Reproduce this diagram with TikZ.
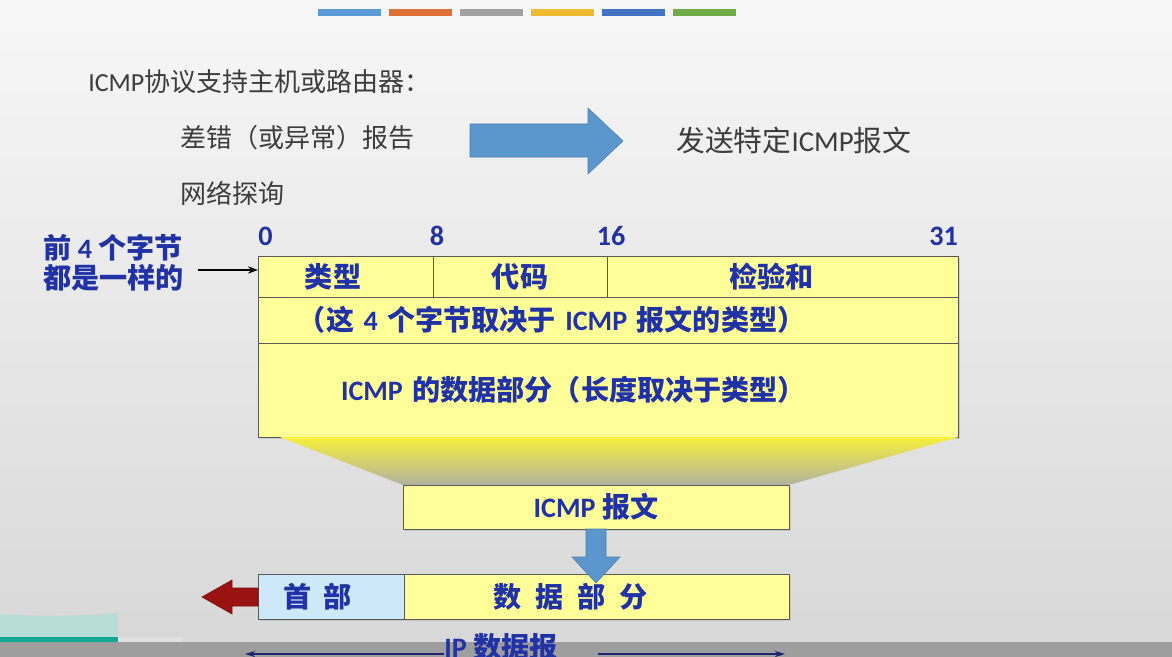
\documentclass[tikz,border=0pt]{standalone}
\usepackage{fontspec}
\setmainfont{Noto Sans CJK SC}
\newfontfamily\lat{Carlito}
\usetikzlibrary{positioning,arrows.meta,shadows}
\definecolor{navy}{RGB}{32,50,165}
\definecolor{dimnavy}{RGB}{28,38,110}
\definecolor{txtgray}{RGB}{60,60,60}
\definecolor{cellyel}{RGB}{255,255,153}
\definecolor{hdrblue}{RGB}{205,232,248}
\definecolor{arrblue}{RGB}{91,150,204}
\definecolor{arrred}{RGB}{155,18,18}
\definecolor{funtop}{RGB}{246,240,60}
\definecolor{funbot}{RGB}{178,178,160}
\definecolor{bgtop}{RGB}{247,247,247}
\definecolor{bgmid}{RGB}{240,240,240}
\definecolor{bgbot}{RGB}{216,216,216}
\definecolor{bandgray}{RGB}{158,158,158}
\definecolor{tealbar}{RGB}{18,168,148}
\definecolor{tealbg}{RGB}{184,220,216}
\definecolor{barA}{RGB}{91,155,213}
\definecolor{barB}{RGB}{222,112,56}
\definecolor{barC}{RGB}{160,160,160}
\definecolor{barD}{RGB}{240,186,48}
\definecolor{barE}{RGB}{68,114,196}
\definecolor{barF}{RGB}{112,173,71}
\tikzset{
  cell/.style={draw=black!65, fill=cellyel, outer sep=0pt, inner sep=0pt,
               text=navy, font=\bfseries\fontsize{20}{24}\selectfont,
               drop shadow={opacity=0.25, shadow xshift=1.2pt, shadow yshift=-1.2pt}},
  plain/.style={anchor=west, inner sep=0pt, text=txtgray,
                font=\fontsize{18.5}{22}\selectfont},
  navylbl/.style={inner sep=0pt, text=navy, font=\bfseries\fontsize{20}{21.3}\selectfont},
  bit/.style={inner xsep=0pt, inner ysep=2.5mm, text=navy,
              font=\lat\bfseries\fontsize{20}{24}\selectfont},
  blockarrow/.style={fill=arrblue, draw=arrblue!85!black, line width=0.4pt},
  dimline/.style={draw=dimnavy, line width=1pt, -{Stealth[length=2.6mm, width=1.6mm]}},
}
\begin{document}
\begin{tikzpicture}[x=0.025cm, y=-0.025cm]
  \useasboundingbox (0,0) rectangle (1172,657);
  % slide background
  \shade[top color=bgtop, middle color=bgmid, bottom color=bgbot] (0,0) rectangle (1172,642);
  \fill[bandgray] (0,642) rectangle (1172,657);
  \fill[tealbg] (0,614) .. controls (40,617) and (80,616) .. (118,613) -- (118,637) -- (0,637) -- cycle;
  \fill[tealbar] (0,637) rectangle (118,642);
  \fill[black!12] (118,637) rectangle (183,642);
  \foreach \c [count=\i from 0] in {barA,barB,barC,barD,barE,barF}
    \fill[\c] (318+71*\i,9) rectangle ++(63,7);

  % intro text
  \node[plain] (intro) at (88,82) {{\lat ICMP}协议支持主机或路由器：};
  \node[plain] (err) at (180,138) {差错（或异常）报告};
  \node[plain] (probe) at (180,193) {网络探询};
  \node[plain, font=\fontsize{20.5}{24}\selectfont] (send) at (676,140) {发送特定{\lat ICMP}报文};
  \fill[blockarrow] (470,124) -- (588,124) -- (588,108) -- (623,141)
    -- (588,174) -- (588,157) -- (470,157) -- cycle;

  % ICMP header layout
  \node[cell, minimum width=4.375cm, minimum height=1.025cm, inner xsep=1.175cm,
        text width=2.025cm, align=left] (typ) at (345.5,276.5) {类型};
  \node[cell, minimum width=4.35cm, minimum height=1.025cm, right=0pt of typ] (code) {代码};
  \node[cell, minimum width=8.775cm, minimum height=1.025cm, inner xsep=3.05cm,
        text width=2.675cm, align=left, right=0pt of code] (chk) {检验和};
  \node[cell, anchor=north west, minimum height=1.15cm, inner xsep=1.0cm,
        text width=15.5cm, align=left] (rsv) at (typ.south west)
        {（这 {\lat 4} 个字节取决于 {\lat ICMP} 报文的类型）};
  \node[cell, anchor=north west, minimum height=2.35cm, inner xsep=2.075cm,
        text width=13.35cm, align=left] (data) at (rsv.south west)
        {{\lat ICMP} 的数据部分（长度取决于类型）};

  \node[bit, anchor=south west] (n0) at (typ.north west) {0};
  \node[bit, anchor=south] (n8) at ([xshift=1mm]code.north west) {8};
  \node[bit, anchor=south] (n16) at ([xshift=1mm]chk.north west) {16};
  \node[bit, anchor=south east] (n31) at (chk.north east) {31};

  \node[navylbl, align=left, anchor=west] (same) at (43,263) {前 {\lat 4} 个字节\\都是一样的};
  \coordinate (tail) at (198,270);
  \draw[-{Stealth[length=2.5mm, width=1.8mm]}, line width=0.9pt] (tail) -- (tail -| typ.west);

  % ICMP message box
  \node[cell, minimum width=9.65cm, minimum height=1.1cm] (msg) at (596,507) {{\lat ICMP} 报文};
  \shade[top color=funtop, bottom color=funbot]
    ([xshift=0.55cm]data.south west) -- (data.south east) -- (msg.north east) -- (msg.north west) -- cycle;

  % IP datagram
  \node[cell, fill=hdrblue, anchor=north west, minimum height=1.125cm, inner xsep=0.625cm,
        text width=2.4cm, align=left] (hdr) at (258,574) {首\hspace{0.45em}部};
  \node[cell, anchor=north west, minimum height=1.125cm, inner xsep=2.225cm,
        text width=5.175cm, align=left] (pay) at (hdr.north east) {数\hspace{0.5em}据\hspace{0.5em}部\hspace{0.5em}分};

  \fill[blockarrow] ([xshift=-0.25cm]msg.south) -- ([xshift=-0.25cm]msg.south |- 0,557)
    -- ([xshift=-0.6cm]msg.south |- 0,557) -- (msg.south |- 0,583)
    -- ([xshift=0.6cm]msg.south |- 0,557) -- ([xshift=0.25cm]msg.south |- 0,557)
    -- ([xshift=0.25cm]msg.south) -- cycle;
  \fill[arrred, draw=arrred!80!black] (hdr.west |- 0,588) -- (232,588) -- (232,580) -- (202,597)
    -- (232,614) -- (232,606) -- (hdr.west |- 0,606) -- cycle;

  \node[navylbl] (ipd) at (501,647) {{\lat IP} 数据报};
  \coordinate (ipl) at (245,654);
  \coordinate (ipr) at (785,654);
  \draw[dimline] (ipd.west |- ipl) -- (ipl);
  \draw[dimline] ([xshift=1cm]ipd.east |- ipr) -- (ipr);
\end{tikzpicture}
\end{document}
